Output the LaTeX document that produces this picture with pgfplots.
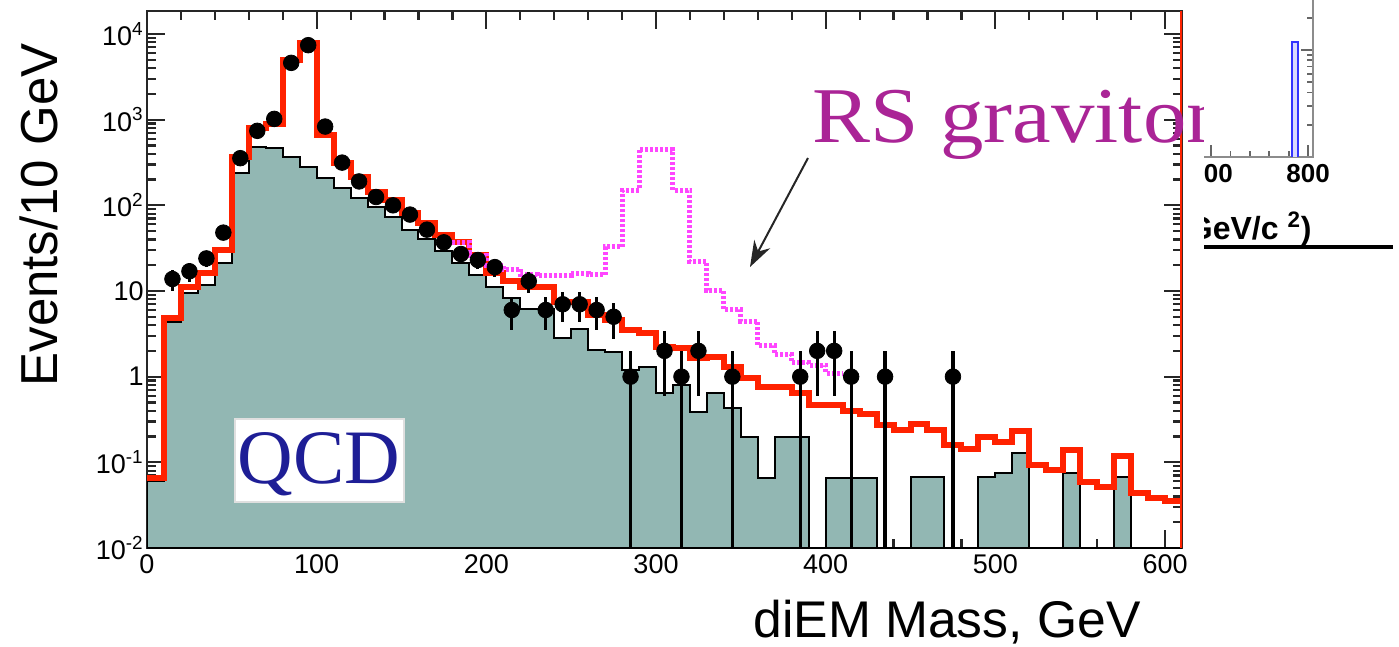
\documentclass[border=0pt]{standalone}
\usepackage{graphicx}
\usepackage{pgfplots}
\pgfplotsset{compat=1.18}
\usetikzlibrary{arrows.meta}
\usepackage{fontspec}
\setmainfont{Liberation Sans}
\newfontfamily\tnr{Liberation Serif}
\definecolor{qcdfill}{RGB}{146,183,179}
\definecolor{histred}{RGB}{255,34,0}
\definecolor{sigmag}{RGB}{255,70,255}
\definecolor{rspurple}{RGB}{170,36,150}
\definecolor{qcdblue}{RGB}{30,30,150}
\begin{document}
\begin{tikzpicture}
\path[use as bounding box] (0,0) rectangle (699.5bp,323.5bp);
\begin{axis}[
  at={(73.5bp,49.5bp)}, anchor=south west,
  scale only axis, width=517.5bp, height=268.5bp,
  xmin=0, xmax=610, ymode=log, ymin=0.01, ymax=18540, log origin=infty,
  axis line style={line width=1.3bp, black!85},
  every tick/.style={line width=1.1bp, black!85},
  tick align=inside,
  major tick length=9bp, minor tick length=4.5bp,
  xtick={0,100,...,600}, minor xtick={20,40,...,600},
  ytick={0.01,0.1,1,10,100,1000,10000},
  yticklabels={10\textsuperscript{-2},10\textsuperscript{-1},1,10,10\textsuperscript{2},10\textsuperscript{3},10\textsuperscript{4}},
  /pgf/number format/assume math mode=true,
  tick label style={font=\fontsize{13.5bp}{16bp}\selectfont},
  yticklabel style={inner sep=1.5bp},
]
% QCD
\addplot[const plot, fill=qcdfill, draw=black, line width=1bp] coordinates {
(0,0.06)(10,4.3)(20,9.4)(30,11.7)(40,21)(50,236)(60,485)(70,470)(80,370)(90,280)
(100,210)(110,160)(120,122)(130,95)(140,73)(150,52)(160,40)(170,29)(180,21)(190,15.5)
(200,11)(210,8.3)(220,6.2)(230,6.2)(240,2.8)(250,3.6)(260,2.05)(270,1.95)(280,1.2)(290,1.3)
(300,0.65)(310,0.8)(320,0.39)(330,0.65)(340,0.43)(350,0.2)(360,0.066)(370,0.2)(380,0.2)(390,0.0001)
(400,0.066)(410,0.066)(420,0.066)(430,0.0001)(440,0.0001)(450,0.068)(460,0.068)(470,0.0001)(480,0.0001)(490,0.068)
(500,0.075)(510,0.13)(520,0.0001)(530,0.0001)(540,0.075)(550,0.0001)(560,0.0001)(570,0.068)(580,0.0001)(590,0.0001)
(600,0.0001)(610,0.0001)
} \closedcycle;
% total background
\addplot[const plot, draw=histred, line width=3bp] coordinates {
(0,0.065)(10,4.8)(20,11)(30,16)(40,30)(50,370)(60,800)(70,900)(80,5000)(90,7800)
(100,660)(110,310)(120,215)(130,143)(140,115)(150,81)(160,62)(170,45)(180,37)(190,26)
(200,16)(210,13)(220,11)(230,11)(240,7.4)(250,7.4)(260,5.2)(270,4.6)(280,3.5)(290,3.2)
(300,2.2)(310,2.15)(320,1.65)(330,1.7)(340,1.3)(350,0.97)(360,0.76)(370,0.76)(380,0.65)(390,0.47)
(400,0.47)(410,0.40)(420,0.37)(430,0.27)(440,0.24)(450,0.28)(460,0.24)(470,0.16)(480,0.145)(490,0.195)
(500,0.175)(510,0.23)(520,0.093)(530,0.081)(540,0.14)(550,0.059)(560,0.051)(570,0.12)(580,0.044)(590,0.038)
(600,0.035)(610,0.035)
};
% RS graviton signal + background
\addplot[const plot, draw=sigmag, line width=2.5bp, dash pattern=on 1.5bp off 1bp] coordinates {
(180,37)(190,26)(200,20)(210,18)(220,15.5)(230,15)(240,15)(250,16)(260,15.5)(270,33)
(280,150)(290,445)(300,445)(310,150)(320,22)(330,10)(340,6)(350,4.4)(360,2.3)(370,1.8)
(380,1.45)(390,1.35)(400,1.1)(410,1.1)
};
% data
\addplot[only marks, mark=*, mark size=3.9bp, black,
  error bars/.cd, y dir=both, y explicit,
  error bar style={line width=1.6bp, black}, error mark=none] coordinates {
(15,13.8) +- (0,3.7)
(25,17) +- (0,4.1)
(35,24) +- (0,4.9)
(45,48) +- (0,6.9)
(55,355) +- (0,19)
(65,740) +- (0,27)
(75,1020) +- (0,32)
(85,4600) +- (0,68)
(95,7400) +- (0,86)
(105,830) +- (0,29)
(115,315) +- (0,18)
(125,190) +- (0,14)
(135,125) +- (0,11)
(145,100) +- (0,10)
(155,78) +- (0,8.8)
(165,52) +- (0,7.2)
(175,37) +- (0,6.1)
(185,27) +- (0,5.2)
(195,23) +- (0,4.8)
(205,19) +- (0,4.4)
(215,6) +- (0,2.45)
(225,13) +- (0,3.6)
(235,6) +- (0,2.45)
(245,7) +- (0,2.65)
(255,7) +- (0,2.65)
(265,6) +- (0,2.45)
(275,5) +- (0,2.24)
(285,1) += (0,1) -= (0,0.99999)
(305,2) +- (0,1.41)
(315,1) += (0,1) -= (0,0.99999)
(325,2) +- (0,1.41)
(345,1) += (0,1) -= (0,0.99999)
(385,1) += (0,1) -= (0,0.99999)
(395,2) +- (0,1.41)
(405,2) +- (0,1.41)
(415,1) += (0,1) -= (0,0.99999)
(435,1) += (0,1) -= (0,0.99999)
(475,1) += (0,1) -= (0,0.99999)
};
\draw[histred, line width=1.6bp] (rel axis cs:1,0) -- (rel axis cs:1,1);
\end{axis}
% axis titles
\node[rotate=90, anchor=base] at (28.5bp,216bp) {\scalebox{0.98}[1]{\fontsize{26bp}{30bp}\selectfont Events/10 GeV}};
\node[anchor=base] at (473.5bp,5bp) {\fontsize{25.8bp}{30bp}\selectfont diEM Mass, GeV};
% QCD label
\draw[fill=white, draw=gray!25, line width=1bp] (117.5bp,72.5bp) rectangle (202bp,114bp);
\node[anchor=base, text=qcdblue, inner sep=0pt] at (159.5bp,81.5bp) {\tnr\fontsize{38.5bp}{40bp}\selectfont QCD};
% RS graviton label and arrow
\begin{scope}
\clip (0,0) rectangle (601.5bp,323.5bp);
\node[anchor=base west, text=rspurple, inner sep=0pt] at (406bp,252bp) {\scalebox{1.1}[1]{\tnr\fontsize{39.5bp}{42bp}\selectfont RS graviton}};
\end{scope}
\draw[black!85, line width=1bp, -{Stealth[length=13bp, width=9bp]}] (404bp,244.5bp) -- (375bp,190bp);
% fragment of the neighbouring figure
\begin{scope}
\clip (602bp,0) rectangle (699.5bp,323.5bp);
\begin{axis}[
  at={(575bp,245bp)}, anchor=south west,
  scale only axis, width=81.5bp, height=107bp,
  xmin=637, xmax=805, ymode=log, ymin=1, ymax=100,
  axis line style={line width=0.9bp, black!45},
  every tick/.style={line width=0.9bp, black!60},
  tick align=inside, xtick pos=bottom, ytick pos=right,
  major tick length=6bp, minor tick length=3bp,
  xtick={700,800}, minor xtick={620,640,...,800},
  ytick={10}, yticklabels={}, minor ytick={2,3,4,5,6,7,8,9,20,30,40,50,60,70,80,90},
  /pgf/number format/assume math mode=true,
  tick label style={font=\bfseries\fontsize{13bp}{15bp}\selectfont},
]
\addplot[draw=blue!80, fill=blue!15, line width=0.9bp] coordinates {(783.5,1)(783.5,11.9)(789.5,11.9)(789.5,1)};
\end{axis}
\node[anchor=base east, inner sep=0pt] at (656bp,203.5bp) {\bfseries\fontsize{16bp}{18bp}\selectfont M (GeV/c \textsuperscript{2})};
\draw[black, line width=2bp] (601bp,200bp) -- (696.5bp,200bp);
\end{scope}
\end{tikzpicture}
\end{document}
